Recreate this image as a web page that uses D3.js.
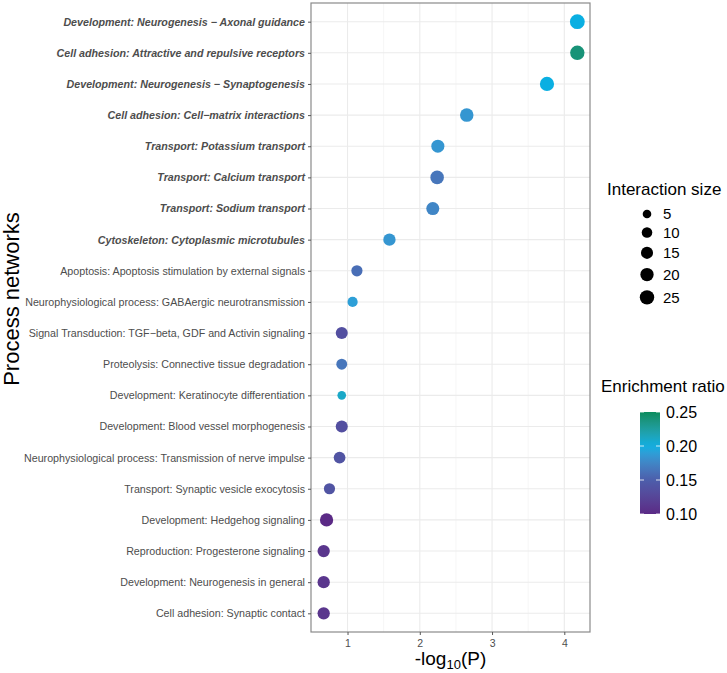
<!DOCTYPE html>
<html><head><meta charset="utf-8">
<script src="https://cdn.jsdelivr.net/npm/d3@7"></script>
<style>body{margin:0;background:#fff}svg{display:block}text{font-family:"Liberation Sans",Arial,sans-serif}</style>
</head><body><svg id="c" width="727" height="673"></svg>
<script>
const categories = [
 "Development: Neurogenesis \u2212 Axonal guidance",
 "Cell adhesion: Attractive and repulsive receptors",
 "Development: Neurogenesis \u2212 Synaptogenesis",
 "Cell adhesion: Cell\u2212matrix interactions",
 "Transport: Potassium transport",
 "Transport: Calcium transport",
 "Transport: Sodium transport",
 "Cytoskeleton: Cytoplasmic microtubules",
 "Apoptosis: Apoptosis stimulation by external signals",
 "Neurophysiological process: GABAergic neurotransmission",
 "Signal Transduction: TGF\u2212beta, GDF and Activin signaling",
 "Proteolysis: Connective tissue degradation",
 "Development: Keratinocyte differentiation",
 "Development: Blood vessel morphogenesis",
 "Neurophysiological process: Transmission of nerve impulse",
 "Transport: Synaptic vesicle exocytosis",
 "Development: Hedgehog signaling",
 "Reproduction: Progesterone signaling",
 "Development: Neurogenesis in general",
 "Cell adhesion: Synaptic contact"
];
const highlighted = [true,true,true,true,true,true,true,true,false,false,false,false,false,false,false,false,false,false,false,false];
const negLogP = [4.18,4.18,3.76,2.65,2.25,2.24,2.18,1.58,1.13,1.07,0.92,0.92,0.92,0.92,0.89,0.75,0.71,0.67,0.67,0.67];
const interactionSize = [27,25,24,21,19,21,19,16,12,9,15,11,5,15,14,12,20,16,16,16];
const enrichmentRatio = [0.20,0.24,0.20,0.185,0.185,0.165,0.175,0.185,0.16,0.19,0.135,0.165,0.21,0.135,0.14,0.14,0.10,0.11,0.11,0.11];
const xTicks = [1,2,3,4];
const sizeBreaks = [5,10,15,20,25];
const colorBreaks = [0.10,0.15,0.20,0.25];
const colorStops = ["#5b2a86","#4c5eab","#0aafe2","#0b8c5e"];

const svg = d3.select("#c");
const P = {l:311, r:590, t:3, b:632};
const labelColor = "#4d4d4d";

const ext = d3.extent(negLogP), pad = (ext[1]-ext[0])*0.05;
const x = d3.scaleLinear().domain([ext[0]-pad, ext[1]+pad]).range([P.l, P.r]);
const y = d3.scalePoint().domain(categories).range([P.t, P.b]).padding(0.6);
const r = d3.scaleSqrt().domain([5,25]).range([4.3,7.2]);
const col = d3.scaleLinear().domain(colorBreaks).range(colorStops).interpolate(d3.interpolateLab);

// grid
const g = svg.append("g");
const minor = d3.range(0.5, 4.6, 1).filter(v => x(v) > P.l + 1 && x(v) < P.r - 1);
g.selectAll(".mn").data(minor).join("line").attr("x1", d=>x(d)).attr("x2", d=>x(d))
 .attr("y1", P.t).attr("y2", P.b).attr("stroke", "#f2f2f2").attr("stroke-width", 0.7);
g.selectAll(".mj").data(xTicks).join("line").attr("x1", d=>x(d)).attr("x2", d=>x(d))
 .attr("y1", P.t).attr("y2", P.b).attr("stroke", "#ebebeb").attr("stroke-width", 1.1);
g.selectAll(".hy").data(categories).join("line").attr("x1", P.l).attr("x2", P.r)
 .attr("y1", d=>y(d)).attr("y2", d=>y(d)).attr("stroke", "#ebebeb").attr("stroke-width", 1.1);

// points
const data = categories.map((c,i)=>({c, x:negLogP[i], s:interactionSize[i], e:enrichmentRatio[i]}));
svg.append("g").selectAll("circle").data(data).join("circle")
 .attr("cx", d=>x(d.x)).attr("cy", d=>y(d.c)).attr("r", d=>r(d.s)).attr("fill", d=>col(d.e));

// border
svg.append("rect").attr("x", P.l).attr("y", P.t).attr("width", P.r-P.l).attr("height", P.b-P.t)
 .attr("fill","none").attr("stroke","#8a8a8a").attr("stroke-width",1.2);

// axes
const xAxis = svg.append("g").attr("transform", `translate(0,${P.b})`)
 .call(d3.axisBottom(x).tickValues(xTicks).tickFormat(d3.format("d")).tickSizeOuter(0).tickSize(3).tickPadding(5));
xAxis.select(".domain").remove();
xAxis.selectAll(".tick line").attr("stroke","#555");
xAxis.selectAll(".tick text").attr("fill",labelColor).style("font-size","10.5px");

const yAxis = svg.append("g").attr("transform", `translate(${P.l},0)`)
 .call(d3.axisLeft(y).tickSizeOuter(0).tickSize(3).tickPadding(3));
yAxis.select(".domain").remove();
yAxis.selectAll(".tick line").attr("stroke","#555");
yAxis.selectAll(".tick text").attr("fill",labelColor).style("font-size","10.7px")
 .style("font-weight", d=>highlighted[categories.indexOf(d)]?"bold":"normal")
 .style("font-style", d=>highlighted[categories.indexOf(d)]?"italic":"normal");

// axis titles
const xt = svg.append("text").attr("x",(P.l+P.r)/2).attr("y",665).attr("text-anchor","middle")
 .style("font-size","19px").attr("fill","#000");
xt.append("tspan").text("-log");
xt.append("tspan").text("10").style("font-size","13px").attr("dy",4);
xt.append("tspan").text("(P)").attr("dy",-4);

svg.append("text").attr("transform","translate(19,299) rotate(-90)").attr("text-anchor","middle")
 .style("font-size","22px").attr("fill","#000").text("Process networks");

// size legend
svg.append("text").attr("x",607).attr("y",195).style("font-size","17px").attr("fill","#000").text("Interaction size");
let yy = 214, prevH = null;
sizeBreaks.forEach((v,i)=>{
  const h = 2*r(v)+9;
  if (prevH !== null) yy += (prevH+h)/2;
  prevH = h;
  svg.append("circle").attr("cx",647).attr("cy",yy).attr("r",r(v)).attr("fill","#000");
  svg.append("text").attr("x",663).attr("y",yy).attr("dy","0.36em").style("font-size","15px").attr("fill","#000").text(v);
});

// color legend
svg.append("text").attr("x",601).attr("y",392).style("font-size","17px").attr("fill","#000").text("Enrichment ratio");
const cb = {x:640, w:20, t:412, b:514};
const cy = d3.scaleLinear().domain([colorBreaks[0], colorBreaks[colorBreaks.length-1]]).range([cb.b, cb.t]);
const defs = svg.append("defs");
const grad = defs.append("linearGradient").attr("id","cg").attr("x1",0).attr("y1",1).attr("x2",0).attr("y2",0);
d3.range(0,1.0001,0.05).forEach(t=>{
  const v = colorBreaks[0] + t*(colorBreaks[colorBreaks.length-1]-colorBreaks[0]);
  grad.append("stop").attr("offset",t).attr("stop-color",col(v));
});
svg.append("rect").attr("x",cb.x).attr("y",cb.t).attr("width",cb.w).attr("height",cb.b-cb.t).attr("fill","url(#cg)");
colorBreaks.forEach(v=>{
  const yv = cy(v);
  svg.append("line").attr("x1",cb.x).attr("x2",cb.x+4).attr("y1",yv).attr("y2",yv).attr("stroke","#fff").attr("stroke-width",0.8);
  svg.append("line").attr("x1",cb.x+cb.w-4).attr("x2",cb.x+cb.w).attr("y1",yv).attr("y2",yv).attr("stroke","#fff").attr("stroke-width",0.8);
  svg.append("text").attr("x",666).attr("y",yv).attr("dy","0.36em").style("font-size","16px").attr("fill","#000").text(d3.format(".2f")(v));
});
</script></body></html>
